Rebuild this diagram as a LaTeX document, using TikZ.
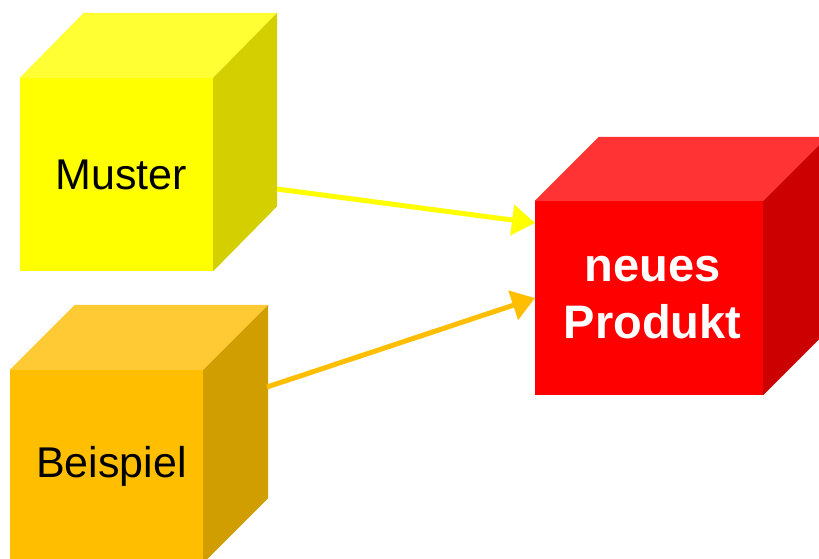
\documentclass[tikz,border=0pt]{standalone}
\usepackage{fontspec}
\setmainfont{Liberation Sans}
\usetikzlibrary{arrows.meta,calc}

\definecolor{yelFront}{RGB}{255,255,0}
\definecolor{yelTop}{RGB}{255,255,51}
\definecolor{yelSide}{RGB}{212,207,0}
\definecolor{orFront}{RGB}{255,191,0}
\definecolor{orTop}{RGB}{255,202,51}
\definecolor{orSide}{RGB}{208,158,0}
\definecolor{redFront}{RGB}{255,0,0}
\definecolor{redTop}{RGB}{255,51,51}
\definecolor{redSide}{RGB}{204,0,0}

\tikzset{
  cubefront/.style={rectangle, inner sep=0pt, draw=none, font=\fontsize{43}{50}\selectfont},
  link/.style={line width=5pt, -{Triangle[length=23pt,width=30pt]}},
}

% front face as a node, top and side faces drawn from its corners
\newcommand{\cubefaces}[5]{% name, dx, dy, top colour, side colour
  \fill[#4] (#1.north west) -- (#1.north east) -- ++(#2,-#3) -- ++($(#1.north west)-(#1.north east)$) -- cycle;
  \fill[#5] (#1.north east) -- ++(#2,-#3) -- ++($(#1.south east)-(#1.north east)$) -- (#1.south east) -- cycle;
}

\begin{document}
\begin{tikzpicture}[x=1pt,y=-1pt]
  \useasboundingbox (0,0) rectangle (819,558);
  \clip (0,0) rectangle (819,558);

  % Muster
  \node[cubefront, fill=yelFront, minimum width=193pt, minimum height=193pt] (muster) at (116.5,174.5) {\hspace{9pt}Muster};
  \cubefaces{muster}{64}{65}{yelTop}{yelSide}

  % Beispiel
  \node[cubefront, fill=orFront, minimum width=193pt, minimum height=193pt] (beispiel) at (106.5,466.5) {\hspace{10pt}Beispiel};
  \cubefaces{beispiel}{65}{65}{orTop}{orSide}

  % neues Produkt
  \node[cubefront, fill=redFront, minimum width=228pt, minimum height=194pt, text=white,
        font=\fontsize{47}{57}\selectfont\bfseries, align=center] (produkt) at (649,298) {\hspace{7pt}neues\\\hspace{7pt}Produkt};
  \cubefaces{produkt}{64}{64}{redTop}{redSide}

  % connectors
  \coordinate (mOut) at (277,189);
  \coordinate (bOut) at (267,387);
  \coordinate (pInA) at (535,223);
  \coordinate (pInB) at (535,298);
  \draw[link, yelFront] (mOut) -- (pInA);
  \draw[link, orFront] (bOut) -- (pInB);
\end{tikzpicture}
\end{document}
